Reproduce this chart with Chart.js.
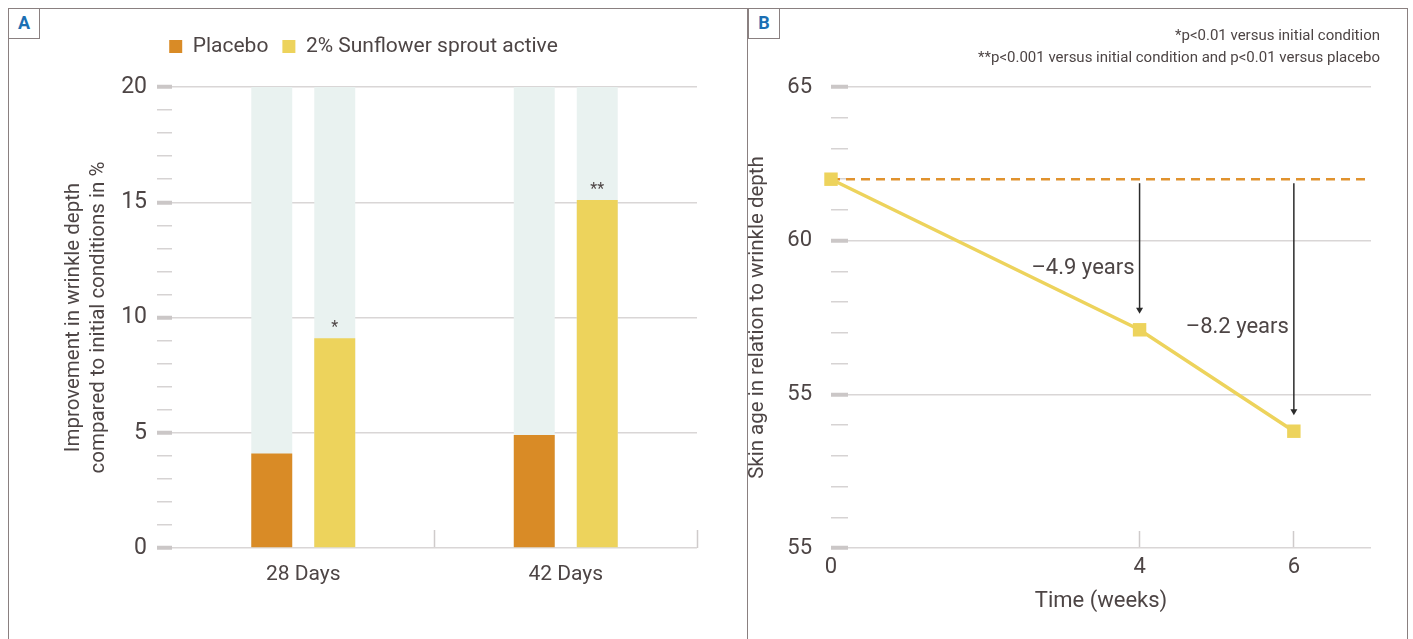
<!DOCTYPE html>
<html>
<head>
<meta charset="utf-8">
<title>Wrinkle depth and skin age</title>
<script src="https://cdn.jsdelivr.net/npm/chart.js@4.4.1/dist/chart.umd.min.js"></script>
<style>
  html, body { margin: 0; background: #fff; }
  #page { position: relative; width: 1413px; height: 639px; overflow: hidden; font-family: Roboto, sans-serif; }
  .frame { position: absolute; left: 8px; top: 8px; width: 1400px; height: 660px; border: 1.5px solid #8a8080; box-sizing: border-box; }
  .divider { position: absolute; left: 747px; top: 8px; height: 640px; border-left: 1.5px solid #8a8080; }
  .tag { position: absolute; top: 8px; width: 32px; height: 31px; box-sizing: border-box; border: 1.5px solid #8a8080;
         background: #fff; color: #1b6fb3; font-weight: bold; font-size: 18px; line-height: 28px; text-align: center; z-index: 2; }
  canvas { position: absolute; top: 8px; }
</style>
</head>
<body>
<div id="page">
  <div class="frame"></div>
  <div class="divider"></div>
  <canvas id="chartA" width="715" height="631" style="left:8px"></canvas>
  <canvas id="chartB" width="659" height="631" style="left:748px"></canvas>
  <div class="tag" style="left:8px">A</div>
  <div class="tag" style="left:748px">B</div>
</div>
<script>
// Panel A - improvement in wrinkle depth (%)
const categories = ['28 Days', '42 Days'];
const placebo = [4.1, 4.9];
const sunflower = [9.1, 15.1];
const trackTop = [20, 20];
const stars = ['*', '**'];
const yTicksA = [0, 5, 10, 15, 20];

// Panel B - skin age vs time
const weeks = [0, 4, 6];
const skinAge = [62, 57.1, 53.8];
const baseWeeks = [0, 7];
const baseAge = [62, 62];
const gains = ['\u20134.9 years', '\u20138.2 years'];
const xTicksB = [0, 4, 6];
const yTicksB = [50, 55, 60, 65];
const yTickTextB = ['55', '55', '60', '65'];
const footnotes = ['*p<0.01 versus initial condition',
                   '**p<0.001 versus initial condition and p<0.01 versus placebo'];

const TEXT = '#4d4545';
const ORANGE = '#d98b26';
const YELLOW = '#edd35c';
const DASH = '#e0922e';
const TRACK = '#e9f2f0';
const GRID = '#d9d6d6';
const TICK = '#cbc7c7';
const MINOR = '#d6d3d3';

Chart.defaults.font.family = 'Roboto, sans-serif';
Chart.defaults.color = TEXT;
Chart.defaults.animation = false;

function yGrid(majors, len) {
  const major = c => c.tick && majors.includes(c.tick.value);
  return {
    color: c => major(c) ? GRID : 'transparent',
    lineWidth: 1.5,
    tickLength: len,
    tickColor: c => major(c) ? TICK : MINOR,
    tickWidth: c => major(c) ? 4 : 1.5
  };
}

const panelA = {
  id: 'panelA',
  beforeInit(chart) {
    const fit = chart.legend.fit;
    chart.legend.fit = function () { fit.call(this); this.height = 65; };
  },
  afterLayout(chart) {
    chart.legend.left += 11;
    chart.legend.right += 11;
  },
  afterDatasetsDraw(chart) {
    const ctx = chart.ctx;
    ctx.save();
    ctx.font = '16px Roboto, sans-serif';
    ctx.fillStyle = TEXT;
    ctx.textAlign = 'center';
    ctx.textBaseline = 'alphabetic';
    chart.getDatasetMeta(1).data.forEach((bar, i) => {
      ctx.fillText(stars[i], bar.x, bar.y - 6);
    });
    ctx.restore();
  }
};

new Chart(document.getElementById('chartA'), {
  type: 'bar',
  data: {
    labels: categories,
    datasets: [
      { label: 'Placebo', data: placebo, backgroundColor: ORANGE, stack: 'p', order: 1 },
      { label: '2% Sunflower sprout active', data: sunflower, backgroundColor: YELLOW, stack: 's', order: 1 },
      { label: 'track', data: trackTop, backgroundColor: TRACK, stack: 'p', order: 2 },
      { label: 'track', data: trackTop, backgroundColor: TRACK, stack: 's', order: 2 }
    ]
  },
  options: {
    responsive: false,
    categoryPercentage: 0.48,
    barPercentage: 0.65,
    layout: { padding: { top: 14, right: 26 } },
    plugins: {
      legend: {
        position: 'top',
        labels: {
          filter: it => it.datasetIndex < 2,
          boxWidth: 13, boxHeight: 13, padding: 14,
          font: { size: 21 }, color: TEXT
        }
      },
      tooltip: { enabled: false }
    },
    scales: {
      x: {
        stacked: true,
        offset: true,
        grid: {
          offset: true, drawOnChartArea: false, tickLength: -18, tickWidth: 1.5,
          tickColor: c => c.index === 0 ? 'transparent' : '#cfcbcb'
        },
        border: { display: false },
        ticks: { padding: 32, font: { size: 21 }, color: TEXT },
        afterFit: s => { s.height = 91; }
      },
      y: {
        stacked: false,
        min: 0, max: 20,
        ticks: {
          stepSize: 1, autoSkip: false, padding: 10, font: { size: 23 }, color: TEXT,
          callback: v => yTicksA.includes(v) ? v : ''
        },
        grid: yGrid(yTicksA, 15),
        border: { display: false },
        title: {
          display: true,
          text: ['Improvement in wrinkle depth', 'compared to initial conditions in %'],
          font: { size: 20.5, lineHeight: 1.22 }, color: TEXT,
          padding: { top: 53, bottom: 0 }
        },
        afterFit: s => { s.width = 164; }
      }
    }
  },
  plugins: [panelA]
});

const panelB = {
  id: 'panelB',
  afterLayout(chart) {
    chart.titleBlock.left += 9;
    chart.titleBlock.right += 9;
  },
  afterDatasetsDraw(chart) {
    const { ctx, scales: { x, y } } = chart;
    const top = y.getPixelForValue(baseAge[0]) + 4;
    ctx.save();
    ctx.strokeStyle = '#2b2b2b';
    ctx.fillStyle = '#2b2b2b';
    ctx.lineWidth = 1.5;
    gains.forEach((txt, i) => {
      const px = x.getPixelForValue(weeks[i + 1]);
      const py = y.getPixelForValue(skinAge[i + 1]);
      const tip = py - 16;
      ctx.beginPath();
      ctx.moveTo(px, top);
      ctx.lineTo(px, tip - 5);
      ctx.stroke();
      ctx.beginPath();
      ctx.moveTo(px - 3.5, tip - 6);
      ctx.lineTo(px + 3.5, tip - 6);
      ctx.lineTo(px, tip);
      ctx.closePath();
      ctx.fill();
      ctx.save();
      ctx.fillStyle = TEXT;
      ctx.font = '22px Roboto, sans-serif';
      ctx.textAlign = 'right';
      ctx.textBaseline = 'middle';
      ctx.fillText(txt, px - 5, top + (py - top) * 0.58);
      ctx.restore();
    });
    ctx.restore();
  }
};

new Chart(document.getElementById('chartB'), {
  type: 'line',
  data: {
    datasets: [
      {
        label: 'Skin age',
        data: weeks.map((w, i) => ({ x: w, y: skinAge[i] })),
        borderColor: YELLOW, backgroundColor: YELLOW, borderWidth: 3.5,
        pointStyle: 'rect', pointRadius: 9.5, pointHoverRadius: 9.5, pointBorderWidth: 0,
        tension: 0, clip: false, order: 1
      },
      {
        label: 'Initial condition',
        data: baseWeeks.map((w, i) => ({ x: w, y: baseAge[i] })),
        borderColor: DASH, borderWidth: 2.5, borderDash: [9, 6],
        pointRadius: 0, clip: false, order: 2
      }
    ]
  },
  options: {
    responsive: false,
    layout: { padding: { right: 36 } },
    plugins: {
      legend: { display: false },
      tooltip: { enabled: false },
      title: {
        display: true, text: footnotes, align: 'end', color: TEXT,
        font: { size: 15, weight: 'normal', lineHeight: 22 / 15 },
        padding: { top: 17, bottom: 18 }
      }
    },
    scales: {
      x: {
        type: 'linear', min: 0, max: 7,
        afterBuildTicks: s => { s.ticks = xTicksB.map(v => ({ value: v })); },
        ticks: { padding: 23, font: { size: 22 }, color: TEXT },
        grid: {
          drawOnChartArea: false, tickLength: -17, tickWidth: 1.5,
          tickColor: c => c.tick && c.tick.value === 0 ? 'transparent' : '#cfcbcb'
        },
        border: { display: false },
        title: {
          display: true, text: 'Time (weeks)', font: { size: 22 }, color: TEXT,
          padding: { top: 0, bottom: 24 }
        },
        afterFit: s => { s.height = 91; }
      },
      y: {
        min: 50, max: 65,
        ticks: {
          stepSize: 1, autoSkip: false, padding: 36, font: { size: 22 }, color: TEXT,
          callback: v => { const i = yTicksB.indexOf(v); return i >= 0 ? yTickTextB[i] : ''; }
        },
        grid: yGrid(yTicksB, -17),
        border: { display: false },
        title: {
          display: true, text: 'Skin age in relation to wrinkle depth',
          font: { size: 20.5, lineHeight: 1 }, color: TEXT, padding: 0
        },
        afterFit: s => { s.width = 83; }
      }
    }
  },
  plugins: [panelB]
});
</script>
</body>
</html>
